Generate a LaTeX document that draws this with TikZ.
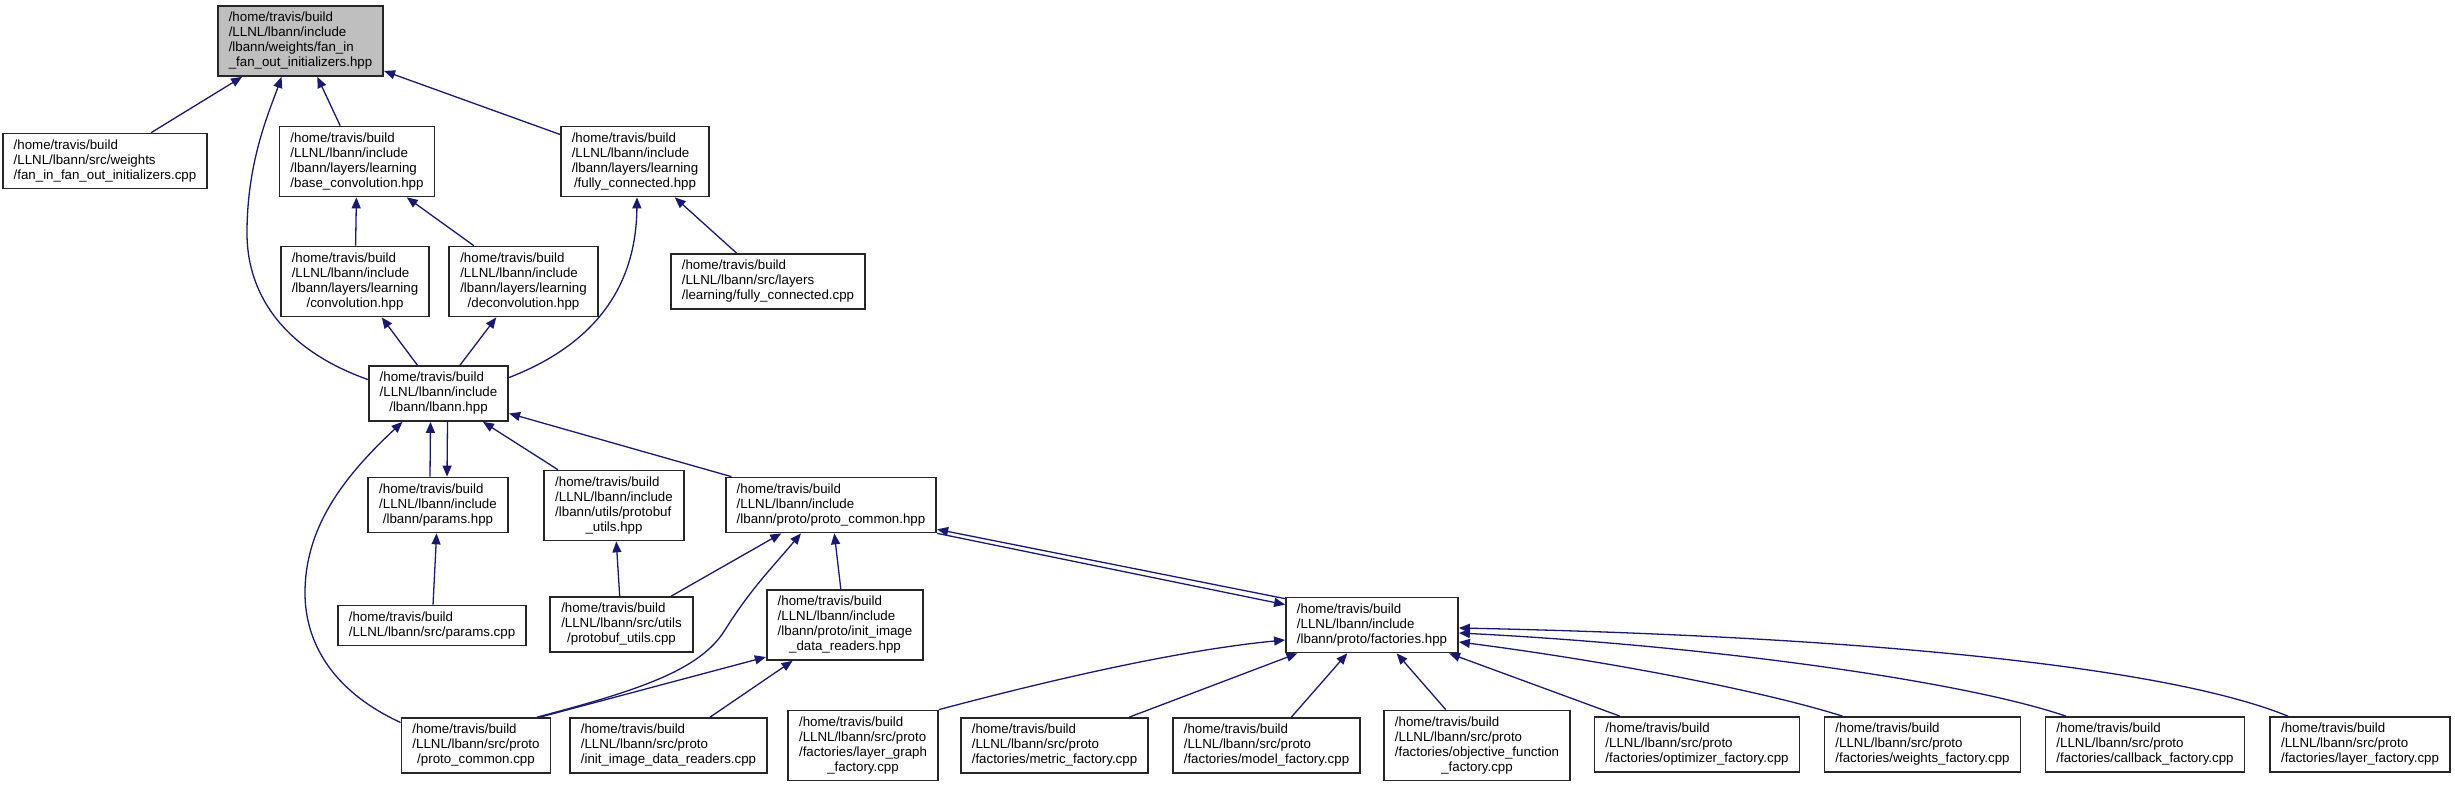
\documentclass[tikz,border=0pt]{standalone}
\usepackage{fontspec}
\setmainfont{Liberation Sans}
\usetikzlibrary{arrows.meta}

\definecolor{edgeblue}{RGB}{25,25,112}
\newcommand{\fpath}[2]{\begin{tabular}{@{}l@{}}#1\\\multicolumn{1}{@{}c@{}}{#2}\end{tabular}}

\tikzset{
  file/.style={draw=black!85, line width=1.7pt, fill=white, inner xsep=11pt, inner ysep=5pt,
    font=\fontsize{13.3}{15}\selectfont},
  dep/.style={draw=edgeblue, line width=1.3pt, -{Triangle[length=11pt,width=9pt]}},
}

\begin{document}
\begin{tikzpicture}[x=1pt, y=-1pt]
      \useasboundingbox (0,0) rectangle (2455,787);
      \node[file, fill=black!25] (root) at (300.5,41) {\fpath{/home/travis/build\\/LLNL/lbann/include\\/lbann/weights/fan\_in}{\_fan\_out\_initializers.hpp}};
      \node[file] (wcpp) at (105,161) {\fpath{/home/travis/build\\/LLNL/lbann/src/weights}{/fan\_in\_fan\_out\_initializers.cpp}};
      \node[file] (base) at (357,161.5) {\fpath{/home/travis/build\\/LLNL/lbann/include\\/lbann/layers/learning}{/base\_convolution.hpp}};
      \node[file] (fchpp) at (635,161.5) {\fpath{/home/travis/build\\/LLNL/lbann/include\\/lbann/layers/learning}{/fully\_connected.hpp}};
      \node[file] (conv) at (355,281.5) {\fpath{/home/travis/build\\/LLNL/lbann/include\\/lbann/layers/learning}{/convolution.hpp}};
      \node[file] (deconv) at (523.5,281.5) {\fpath{/home/travis/build\\/LLNL/lbann/include\\/lbann/layers/learning}{/deconvolution.hpp}};
      \node[file] (fccpp) at (768,281.5) {\fpath{/home/travis/build\\/LLNL/lbann/src/layers}{/learning/fully\_connected.cpp}};
      \node[file] (lbann) at (438.5,393.5) {\fpath{/home/travis/build\\/LLNL/lbann/include}{/lbann/lbann.hpp}};
      \node[file] (paramshpp) at (438,505) {\fpath{/home/travis/build\\/LLNL/lbann/include}{/lbann/params.hpp}};
      \node[file] (pbufhpp) at (614,505.5) {\fpath{/home/travis/build\\/LLNL/lbann/include\\/lbann/utils/protobuf}{\_utils.hpp}};
      \node[file] (pchpp) at (831,505) {\fpath{/home/travis/build\\/LLNL/lbann/include}{/lbann/proto/proto\_common.hpp}};
      \node[file] (paramscpp) at (432,625.5) {\fpath{/home/travis/build}{/LLNL/lbann/src/params.cpp}};
      \node[file] (pbufcpp) at (621.5,624.5) {\fpath{/home/travis/build\\/LLNL/lbann/src/utils}{/protobuf\_utils.cpp}};
      \node[file] (inithpp) at (845,625) {\fpath{/home/travis/build\\/LLNL/lbann/include\\/lbann/proto/init\_image}{\_data\_readers.hpp}};
      \node[file] (fachpp) at (1372,625) {\fpath{/home/travis/build\\/LLNL/lbann/include}{/lbann/proto/factories.hpp}};
      \node[file] (pccpp) at (476,745.5) {\fpath{/home/travis/build\\/LLNL/lbann/src/proto}{/proto\_common.cpp}};
      \node[file] (initcpp) at (668.5,745.5) {\fpath{/home/travis/build\\/LLNL/lbann/src/proto}{/init\_image\_data\_readers.cpp}};
      \node[file] (lgcpp) at (863,745.5) {\fpath{/home/travis/build\\/LLNL/lbann/src/proto\\/factories/layer\_graph}{\_factory.cpp}};
      \node[file] (metric) at (1054.5,745.5) {\fpath{/home/travis/build\\/LLNL/lbann/src/proto}{/factories/metric\_factory.cpp}};
      \node[file] (model) at (1266.5,745.5) {\fpath{/home/travis/build\\/LLNL/lbann/src/proto}{/factories/model\_factory.cpp}};
      \node[file] (objective) at (1477,745.5) {\fpath{/home/travis/build\\/LLNL/lbann/src/proto\\/factories/objective\_function}{\_factory.cpp}};
      \node[file] (optimizer) at (1697,744.5) {\fpath{/home/travis/build\\/LLNL/lbann/src/proto}{/factories/optimizer\_factory.cpp}};
      \node[file] (weights) at (1922.5,744.5) {\fpath{/home/travis/build\\/LLNL/lbann/src/proto}{/factories/weights\_factory.cpp}};
      \node[file] (callback) at (2145,744.5) {\fpath{/home/travis/build\\/LLNL/lbann/src/proto}{/factories/callback\_factory.cpp}};
      \node[file] (layer) at (2360,744.5) {\fpath{/home/travis/build\\/LLNL/lbann/src/proto}{/factories/layer\_factory.cpp}};
      % includes of the weights header
      \draw[dep] (wcpp) -- (root);
      \draw[dep] ([yshift=14pt]lbann.west) .. controls (290,352) and (247,300) .. (247,233) .. controls (247,160) and (270,110) .. ([xshift=-19pt]root.south);
      \draw[dep] (base) -- (root);
      \draw[dep] (fchpp) -- (root);
      \draw[dep] (conv) -- (base);
      \draw[dep] (deconv) -- (base);
      \draw[dep] (fccpp) -- (fchpp);
      \draw[dep] (lbann) -- (conv);
      \draw[dep] (lbann) -- (deconv);
      \draw[dep] ([yshift=16pt]lbann.east) .. controls (580,350) and (636,300) .. ([xshift=2pt]fchpp.south);
      % lbann.hpp and below
      \draw[dep] ([xshift=-8pt]paramshpp.north) -- ([xshift=-8pt]lbann.south);
      \draw[dep] ([xshift=9pt]lbann.south) -- ([xshift=9pt]paramshpp.north);
      \draw[dep] ([yshift=23pt]pccpp.west) .. controls (330,690) and (305,640) .. (305,593) .. controls (305,530) and (340,480) .. ([xshift=-36pt]lbann.south);
      \draw[dep] (pbufhpp) -- (lbann);
      \draw[dep] (pchpp) -- (lbann);
      \draw[dep] (paramscpp) -- (paramshpp);
      \draw[dep] (pbufcpp) -- (pbufhpp);
      \draw[dep] (pbufcpp) -- (pchpp);
      \draw[dep] ([xshift=61pt]pccpp.north) .. controls (640,690) and (700,670) .. (725,630) .. controls (750,590) and (770,570) .. ([xshift=-30pt]pchpp.south);
      \draw[dep] (inithpp) -- (pchpp);
      \draw[dep] ([xshift=64pt]pccpp.north) -- ([yshift=-32pt]inithpp.west);
      \draw[dep] (initcpp) -- (inithpp);
      % factories
      \draw[dep] ([yshift=-2pt]fachpp.north west) -- ([yshift=4pt]pchpp.south east);
      \draw[dep] (pchpp.south east) -- ([yshift=-8pt]fachpp.north west);
      \draw[dep] (lgcpp.north east) .. controls (1050,680) and (1180,650) .. ([yshift=-15pt]fachpp.west);
      \draw[dep] (metric) -- (fachpp);
      \draw[dep] (model) -- (fachpp);
      \draw[dep] (objective) -- (fachpp);
      \draw[dep] (optimizer) -- (fachpp);
      \draw[dep] ([xshift=-80pt]weights.north) .. controls (1760,690) and (1600,660) .. ([yshift=-17pt]fachpp.east);
      \draw[dep] ([xshift=-79pt]callback.north) .. controls (1960,680) and (1700,645) .. ([yshift=-8pt]fachpp.east);
      \draw[dep] ([xshift=-72pt]layer.north) .. controls (2150,660) and (1800,635) .. ([yshift=-3pt]fachpp.east);
    \end{tikzpicture}
\end{document}
